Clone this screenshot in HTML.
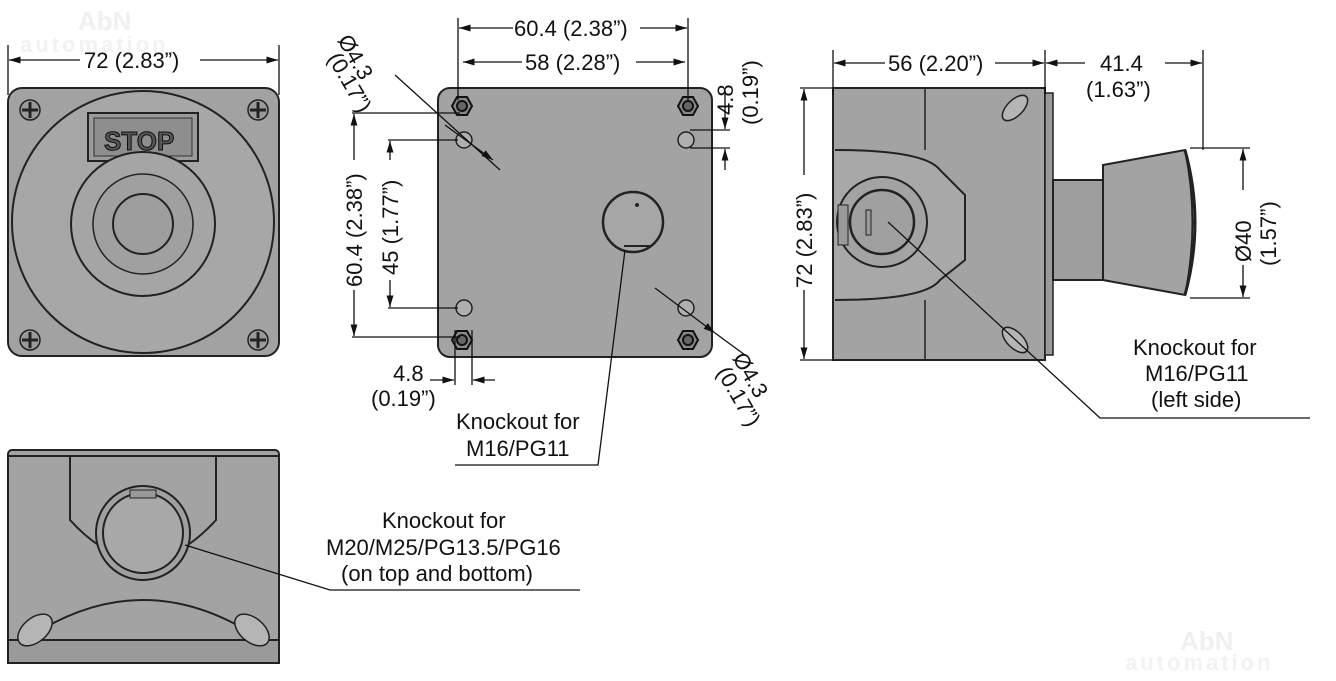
<!DOCTYPE html>
<html><head><meta charset="utf-8"><style>
html,body{margin:0;padding:0;background:#fff;}
svg{display:block;font-family:"Liberation Sans",sans-serif;}
text{fill:#111;font-size:22px;}
.l{stroke:#111}
</style></head><body>
<svg width="1336" height="681" viewBox="0 0 1336 681" xmlns="http://www.w3.org/2000/svg">
<defs>
<marker id="a" viewBox="0 0 10 10" refX="10" refY="5" markerWidth="9" markerHeight="9" orient="auto-start-reverse"><path d="M0,2 L10,5 L0,8z" fill="#111"/></marker>
<g id="scr"><circle r="10" fill="#9a9a9a" stroke="#222" stroke-width="1.5"/><path d="M-8,0H8M0,-8V8" stroke="#222" stroke-width="3"/></g>
<g id="nut"><polygon points="-10,0 -5,-9 5,-9 10,0 5,9 -5,9" fill="#888" stroke="#111" stroke-width="2"/><circle r="5" fill="#666" stroke="#111" stroke-width="2"/></g>
</defs>
<text x="78" y="30" style="font-size:26px;font-weight:bold;fill:#f0f0f0">AbN</text>
<text x="20" y="52" style="font-size:22px;font-weight:bold;fill:#f2f2f2;letter-spacing:3px">automation</text>
<text x="1180" y="650" style="font-size:26px;font-weight:bold;fill:#f0f0f0">AbN</text>
<text x="1125" y="670" style="font-size:22px;font-weight:bold;fill:#f2f2f2;letter-spacing:3px">automation</text>

<g stroke="#111" stroke-width="1.3" fill="none">
<line x1="8" y1="45" x2="8" y2="95"/><line x1="279" y1="45" x2="279" y2="95"/>
<line x1="9" y1="60" x2="80" y2="60" marker-start="url(#a)"/><line x1="200" y1="60" x2="278" y2="60" marker-end="url(#a)"/>
</g>
<rect x="8" y="88" width="271" height="268" rx="14" fill="#a2a2a2" stroke="#222" stroke-width="2"/>
<circle cx="143" cy="222" r="131" fill="#a7a7a7" stroke="#222" stroke-width="2"/>
<rect x="88" y="113" width="110" height="48" fill="#9a9a9a" stroke="#222" stroke-width="2"/>
<rect x="94" y="118" width="98" height="38" fill="#8e8e8e" stroke="#333"/>
<text x="104" y="150" style="font-size:26px;font-weight:bold;fill:#555;stroke:#111;stroke-width:1">STOP</text>
<circle cx="143" cy="224" r="72" fill="#a5a5a5" stroke="#222" stroke-width="2"/>
<circle cx="143" cy="224" r="50" fill="#a0a0a0" stroke="#222" stroke-width="1.5"/>
<circle cx="143" cy="224" r="30" fill="#9e9e9e" stroke="#222" stroke-width="2"/>
<use href="#scr" x="30" y="110"/><use href="#scr" x="258" y="110"/><use href="#scr" x="30" y="340"/><use href="#scr" x="258" y="340"/>
<text x="84" y="68">72 (2.83”)</text>

<rect x="8" y="450" width="271" height="213" rx="4" fill="#a3a3a3" stroke="#222" stroke-width="2"/>
<line x1="8" y1="456" x2="279" y2="456" stroke="#222" stroke-width="2"/>
<path d="M25,640 Q143,560 262,640" fill="none" stroke="#222" stroke-width="2"/>
<path d="M70,456 V520 Q143,600 216,520 V456" fill="none" stroke="#222" stroke-width="2"/>
<rect x="8" y="640" width="271" height="23" fill="#9a9a9a" stroke="#222" stroke-width="2"/>
<ellipse cx="35" cy="630" rx="12" ry="20" transform="rotate(50 35 630)" fill="#b5b5b5" stroke="#222" stroke-width="1.5"/>
<ellipse cx="252" cy="630" rx="12" ry="20" transform="rotate(-50 252 630)" fill="#b5b5b5" stroke="#222" stroke-width="1.5"/>
<circle cx="143" cy="533" r="47" fill="#a0a0a0" stroke="#222" stroke-width="2"/>
<circle cx="143" cy="533" r="40" fill="#a8a8a8" stroke="#222" stroke-width="2"/>
<rect x="130" y="490" width="26" height="8" fill="#999" stroke="#222"/>
<path d="M185,545 L330,590 H580" fill="none" stroke="#111" stroke-width="1.3"/>
<text x="382" y="528">Knockout for</text>
<text x="326" y="555">M20/M25/PG13.5/PG16</text>
<text x="341" y="581">(on top and bottom)</text>

<rect x="438" y="88" width="274" height="269" rx="12" fill="#a3a3a3" stroke="#222" stroke-width="2"/>
<use href="#nut" x="462" y="106"/><use href="#nut" x="688" y="106"/><use href="#nut" x="462" y="340"/><use href="#nut" x="688" y="340"/>
<g fill="#b0b0b0" stroke="#222" stroke-width="1.5">
<circle cx="464" cy="140" r="8"/><circle cx="686" cy="140" r="8"/><circle cx="464" cy="308" r="8"/><circle cx="686" cy="308" r="8"/></g>
<circle cx="633" cy="222" r="30" fill="#a6a6a6" stroke="#222" stroke-width="2.5"/>
<line x1="624" y1="246" x2="650" y2="246" stroke="#222" stroke-width="2"/>
<circle cx="637" cy="205" r="2" fill="#222"/>
<g stroke="#111" stroke-width="1.3" fill="none">
<line x1="458" y1="18" x2="458" y2="100"/><line x1="688" y1="18" x2="688" y2="100"/>
<line x1="459" y1="28" x2="513" y2="28" marker-start="url(#a)"/><line x1="640" y1="28" x2="687" y2="28" marker-end="url(#a)"/>
<line x1="463" y1="62" x2="522" y2="62" marker-start="url(#a)"/><line x1="636" y1="62" x2="685" y2="62" marker-end="url(#a)"/>
<line x1="352" y1="113" x2="460" y2="113"/><line x1="352" y1="337" x2="460" y2="337"/>
<line x1="354" y1="114" x2="354" y2="160" marker-start="url(#a)"/><line x1="354" y1="290" x2="354" y2="336" marker-end="url(#a)"/>
<line x1="388" y1="140" x2="458" y2="140"/><line x1="388" y1="308" x2="458" y2="308"/>
<line x1="390" y1="141" x2="390" y2="160" marker-start="url(#a)"/><line x1="390" y1="280" x2="390" y2="307" marker-end="url(#a)"/>
<line x1="690" y1="130" x2="730" y2="130"/><line x1="690" y1="148" x2="730" y2="148"/>
<line x1="725" y1="90" x2="725" y2="129" marker-end="url(#a)"/><line x1="725" y1="170" x2="725" y2="149" marker-end="url(#a)"/>
<line x1="455" y1="330" x2="455" y2="385"/><line x1="472" y1="330" x2="472" y2="385"/>
<line x1="430" y1="380" x2="454" y2="380" marker-end="url(#a)"/><line x1="495" y1="380" x2="473" y2="380" marker-end="url(#a)"/>
<line x1="395" y1="75" x2="500" y2="170"/><line x1="445" y1="125" x2="493" y2="160" marker-end="url(#a)"/>
<line x1="655" y1="288" x2="715" y2="333" marker-end="url(#a)"/><line x1="715" y1="333" x2="745" y2="355"/>
<path d="M625,250 L598,465 H455"/>
</g>
<text x="525" y="70">58 (2.28”)</text>
<text x="514" y="36">60.4 (2.38”)</text>
<text transform="translate(362,287) rotate(-90)">60.4 (2.38”)</text>
<text transform="translate(398,275) rotate(-90)">45 (1.77”)</text>
<text transform="translate(733,115) rotate(-90)">4.8</text>
<text transform="translate(758,125) rotate(-90)">(0.19”)</text>
<text x="393" y="381">4.8</text>
<text x="371" y="406">(0.19”)</text>
<text transform="translate(337,40) rotate(60)">Ø4.3</text>
<text transform="translate(327,58) rotate(60)">(0.17”)</text>
<text transform="translate(732,358) rotate(60)">Ø4.3</text>
<text transform="translate(716,372) rotate(60)">(0.17”)</text>
<text x="456" y="429">Knockout for</text>
<text x="466" y="456">M16/PG11</text>

<rect x="833" y="88" width="212" height="272" fill="#a3a3a3" stroke="#222" stroke-width="2"/>
<rect x="1045" y="93" width="8" height="262" fill="#9a9a9a" stroke="#222" stroke-width="1.5"/>
<path d="M835,150 Q925,150 940,170 L965,195 V260 L940,280 Q925,300 835,300" fill="#a8a8a8" stroke="#222" stroke-width="2"/>
<path d="M925,88 V150 M925,300 V360" stroke="#222" stroke-width="1.5"/>
<circle cx="882" cy="222" r="45" fill="#a3a3a3" stroke="#222" stroke-width="2"/>
<circle cx="882" cy="222" r="32" fill="#a0a0a0" stroke="#222" stroke-width="2.5"/>
<rect x="838" y="205" width="10" height="40" fill="#999" stroke="#222"/>
<rect x="866" y="210" width="5" height="25" fill="#999" stroke="#222"/>
<ellipse cx="1015" cy="108" rx="8" ry="16" transform="rotate(45 1015 108)" fill="#b5b5b5" stroke="#222" stroke-width="1.5"/>
<ellipse cx="1015" cy="340" rx="8" ry="16" transform="rotate(-45 1015 340)" fill="#b5b5b5" stroke="#222" stroke-width="1.5"/>
<rect x="1053" y="180" width="50" height="100" fill="#9e9e9e" stroke="#222" stroke-width="2"/>
<path d="M1103,165 L1185,150 Q1200,222 1185,295 L1103,280z" fill="#a3a3a3" stroke="#222" stroke-width="2"/>
<path d="M1185,150 Q1205,222 1185,295" fill="none" stroke="#222" stroke-width="3"/>
<g stroke="#111" stroke-width="1.3" fill="none">
<line x1="833" y1="50" x2="833" y2="95"/><line x1="1045" y1="50" x2="1045" y2="95"/><line x1="1203" y1="50" x2="1203" y2="150"/>
<line x1="834" y1="63" x2="885" y2="63" marker-start="url(#a)"/><line x1="995" y1="63" x2="1044" y2="63" marker-end="url(#a)"/>
<line x1="1046" y1="63" x2="1085" y2="63" marker-start="url(#a)"/><line x1="1165" y1="63" x2="1202" y2="63" marker-end="url(#a)"/>
<line x1="800" y1="88" x2="835" y2="88"/><line x1="800" y1="360" x2="835" y2="360"/>
<line x1="804" y1="89" x2="804" y2="175" marker-start="url(#a)"/><line x1="804" y1="290" x2="804" y2="359" marker-end="url(#a)"/>
<line x1="1190" y1="148" x2="1250" y2="148"/><line x1="1190" y1="298" x2="1250" y2="298"/>
<line x1="1243" y1="149" x2="1243" y2="190" marker-start="url(#a)"/><line x1="1243" y1="265" x2="1243" y2="297" marker-end="url(#a)"/>
<path d="M888,222 L1100,418 H1310"/>
</g>
<text x="888" y="71">56 (2.20”)</text>
<text x="1100" y="71">41.4</text>
<text x="1086" y="97">(1.63”)</text>
<text transform="translate(812,288) rotate(-90)">72 (2.83”)</text>
<text transform="translate(1251,262) rotate(-90)">Ø40</text>
<text transform="translate(1276,266) rotate(-90)">(1.57”)</text>
<text x="1133" y="355">Knockout for</text>
<text x="1145" y="381">M16/PG11</text>
<text x="1151" y="407">(left side)</text>
</svg>
</body></html>
